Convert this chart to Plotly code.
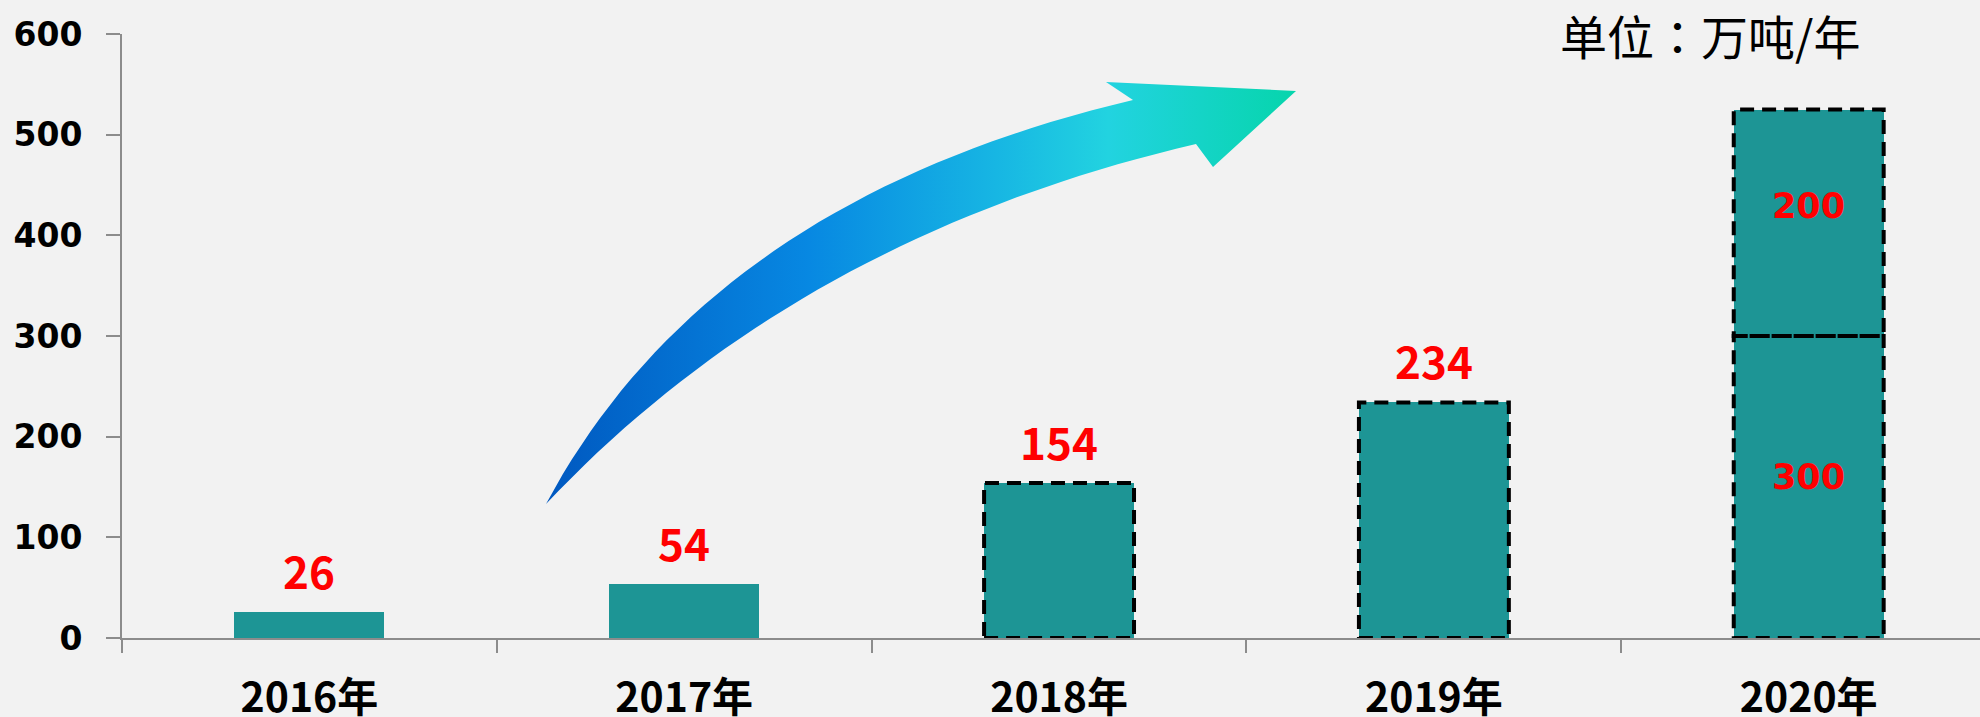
import plotly.graph_objects as go

# 数据
years = ["2016年", "2017年", "2018年", "2019年", "2020年"]
base = [26, 54, 154, 234, 300]          # 柱体（2020年为下半段）
extra = [0, 0, 0, 0, 225]               # 2020年上半段，图中柱顶约 525
top_labels = ["26", "54", "154", "234"]
labels_2020 = ["300", "200"]
dashed = [False, False, True, True, True]
unit_text = "单位：万吨/年"

BAR_COLOR = "#1d9595"
AXIS_COLOR = "#8c8c8c"
BAR_W = 0.4


def quad(p0, c, p2, n=40):
    # 二次贝塞尔曲线采样，用于装饰箭头
    pts = []
    for k in range(n + 1):
        t = k / n
        x = (1 - t) ** 2 * p0[0] + 2 * (1 - t) * t * c[0] + t ** 2 * p2[0]
        y = (1 - t) ** 2 * p0[1] + 2 * (1 - t) * t * c[1] + t ** 2 * p2[1]
        pts.append((x, y))
    return pts


fig = go.Figure()

fig.add_trace(go.Bar(x=years, y=base, width=BAR_W, marker=dict(color=BAR_COLOR, line=dict(width=0)),
                     hoverinfo="skip", showlegend=False))
fig.add_trace(go.Bar(x=years, y=extra, width=BAR_W, marker=dict(color=BAR_COLOR, line=dict(width=0)),
                     hoverinfo="skip", showlegend=False))

# 渐变箭头（像素坐标，叠加轴）
outer = quad((546, 504), (708, 200), (1133, 100))
inner = quad((546, 504), (797, 237), (1196, 144))
head = [(1106, 82), (1296, 91), (1213, 167)]
poly = outer + head + inner[::-1]
fig.add_trace(go.Scatter(
    x=[p[0] for p in poly], y=[p[1] for p in poly],
    xaxis="x2", yaxis="y2", mode="lines", line=dict(width=0),
    fill="toself",
    fillgradient=dict(type="horizontal", colorscale=[
        [0.0, "#0058c0"], [0.35, "#0788e2"], [0.6, "#17b6e3"],
        [0.75, "#22d3e0"], [1.0, "#06d5ac"]]),
    hoverinfo="skip", showlegend=False))

shapes = []
for i, d in enumerate(dashed):
    if not d:
        continue
    segs = [(0, base[i])]
    if extra[i]:
        segs.append((base[i], base[i] + extra[i]))
    for y0, y1 in segs:
        shapes.append(dict(type="rect", xref="x", yref="y",
                           x0=i - BAR_W / 2, x1=i + BAR_W / 2, y0=y0, y1=y1,
                           line=dict(color="black", width=4, dash="14px,8px")))

annotations = []
for i, t in enumerate(top_labels):
    annotations.append(dict(x=years[i], y=base[i], xref="x", yref="y", text=t,
                            showarrow=False, yanchor="bottom", yshift=8,
                            font=dict(family="Noto Sans CJK SC", size=44, color="red", weight="bold")))
i = len(years) - 1
for t, yc, sh in zip(labels_2020, [base[i] / 2, base[i] + extra[i] / 2], [10, 17]):
    annotations.append(dict(x=years[i], y=yc, xref="x", yref="y", text=t,
                            showarrow=False, yshift=sh,
                            font=dict(family="DejaVu Sans", size=35, color="red", weight="bold")))
annotations.append(dict(x=0.8547, y=1.0, xref="paper", yref="paper", text=unit_text,
                        showarrow=False, xanchor="center", yanchor="middle",
                        font=dict(family="Noto Sans CJK TC", size=47, color="black")))

fig.update_layout(
    width=1980, height=717,
    margin=dict(l=122, r=0, t=34, b=79),
    paper_bgcolor="#f2f2f2", plot_bgcolor="rgba(0,0,0,0)",
    barmode="stack", bargap=0.6,
    shapes=shapes, annotations=annotations,
    xaxis=dict(type="category", range=[-0.5, 4.457], showgrid=False, zeroline=False,
               showline=True, linecolor=AXIS_COLOR, linewidth=2,
               ticks="outside", tickson="boundaries", ticklen=13, tickwidth=2, tickcolor=AXIS_COLOR,
               ticklabelstandoff=23, automargin=False,
               tickfont=dict(family="Noto Sans CJK SC", size=41, color="black", weight="bold")),
    yaxis=dict(range=[0, 600], dtick=100, showgrid=False, zeroline=False,
               showline=True, linecolor=AXIS_COLOR, linewidth=2,
               ticks="outside", ticklen=14, tickwidth=2, tickcolor=AXIS_COLOR,
               ticklabelstandoff=17, automargin=False,
               tickfont=dict(family="DejaVu Sans", size=33, color="black", weight="bold")),
    xaxis2=dict(overlaying="x", range=[122, 1980], visible=False),
    yaxis2=dict(overlaying="y", range=[638, 34], visible=False),
)

fig.write_html("out.html", config={"displayModeBar": False},
               post_script="document.body.style.margin='0';")
